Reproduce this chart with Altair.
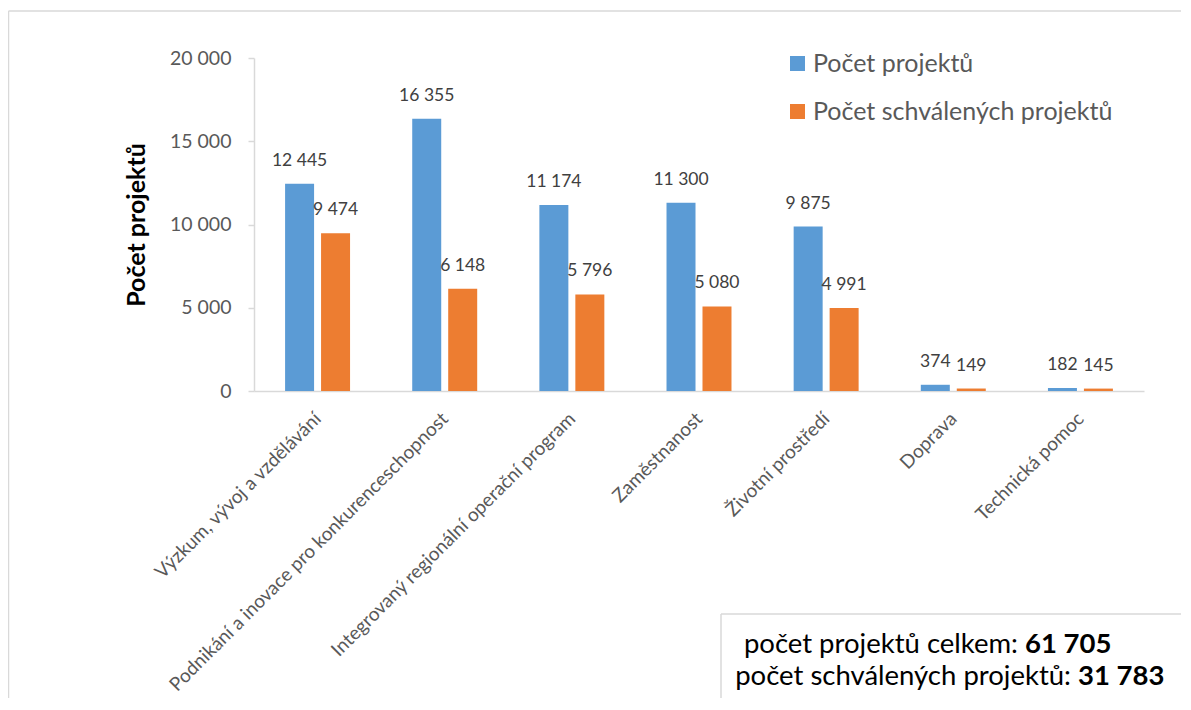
import altair as alt
import pandas as pd

categories = [
    "Výzkum, vývoj a vzdělávání",
    "Podnikání a inovace pro konkurenceschopnost",
    "Integrovaný regionální operační program",
    "Zaměstnanost",
    "Životní prostředí",
    "Doprava",
    "Technická pomoc",
]
series = ["Počet projektů", "Počet schválených projektů"]
projects = [12445, 16355, 11174, 11300, 9875, 374, 182]
approved = [9474, 6148, 5796, 5080, 4991, 149, 145]
y_ticks = [0, 5000, 10000, 15000, 20000]
summary_labels = ["počet projektů celkem:", "počet schválených projektů:"]
summary_values = ["61 705", "31 783"]
colors = ["#5B9BD5", "#ED7D31"]

FONT = "Lato"
W, H = 890, 333
PAD = {"left": 246, "top": 50, "right": 39, "bottom": 309}
RIGHT = W + PAD["right"] - 2     # just inside the svg right edge
BOTTOM = H + PAD["bottom"] - 2   # just inside the svg bottom edge
EDGE = "#d9d9d9"

rows = []
for i, c in enumerate(categories):
    for s, vals in zip(series, [projects, approved]):
        v = vals[i]
        rows.append({"category": c, "series": s, "value": v,
                     "label": f"{v:,}".replace(",", " ")})
df = pd.DataFrame(rows)

x_enc = alt.X(
    "category:N", sort=categories, title=None,
    scale=alt.Scale(paddingInner=0.489, paddingOuter=0.2445),
    axis=alt.Axis(labelAngle=-45, labelAlign="right", labelBaseline="top",
                  labelFontSize=19, labelColor="#595959", labelFont=FONT,
                  ticks=False, domainColor=EDGE, domainWidth=1.5,
                  labelPadding=18, labelOffset=-6, labelLimit=0),
)
xoff_enc = alt.XOffset("series:N", sort=series,
                       scale=alt.Scale(domain=series, paddingInner=0.194, paddingOuter=0))
y_enc = alt.Y(
    "value:Q", scale=alt.Scale(domain=[0, 20000]),
    axis=alt.Axis(values=y_ticks, grid=False, domainColor=EDGE, domainWidth=1.5,
                  tickColor=EDGE, tickSize=6, tickWidth=1.5,
                  labelFontSize=19.5, labelColor="#595959", labelFont=FONT, labelPadding=17,
                  labelExpr="replace(format(datum.value, ','), ',', ' ')",
                  title="Počet projektů", titleFontSize=25, titleFont=FONT,
                  titleFontWeight="bold", titleColor="#000000", titlePadding=20),
)

base = alt.Chart(df)
bars = base.mark_bar().encode(
    x=x_enc, xOffset=xoff_enc, y=y_enc,
    color=alt.Color("series:N", sort=series,
                    scale=alt.Scale(domain=series, range=colors),
                    legend=alt.Legend(orient="none", legendX=531, legendY=-7, title=None,
                                      symbolType="square", symbolSize=225,
                                      symbolStrokeWidth=0, labelFontSize=25,
                                      labelColor="#595959", labelFont=FONT,
                                      rowPadding=22, labelOffset=3, labelLimit=0)),
)
labels = base.mark_text(dy=-18, baseline="alphabetic", fontSize=17.5,
                        color="#404040", font=FONT).encode(
    x=alt.X("category:N", sort=categories),
    xOffset=alt.XOffset("series:N", sort=series),
    y="value:Q", text="label:N",
)

one = pd.DataFrame({"k": [0]})
FX, FY = -245.5, -47
frame_top = alt.Chart(one).mark_rule(color=EDGE, strokeWidth=1.5).encode(
    x=alt.value(FX), x2=alt.value(RIGHT), y=alt.value(FY))
frame_left = alt.Chart(one).mark_rule(color=EDGE, strokeWidth=1.5).encode(
    x=alt.value(FX), y=alt.value(FY), y2=alt.value(BOTTOM))

BX, BY = 467, 556
box = alt.Chart(one).mark_rect(fill="white").encode(
    x=alt.value(BX), x2=alt.value(RIGHT), y=alt.value(BY), y2=alt.value(BOTTOM))
box_top = alt.Chart(one).mark_rule(color=EDGE, strokeWidth=1.5).encode(
    x=alt.value(BX), x2=alt.value(RIGHT), y=alt.value(BY))
box_left = alt.Chart(one).mark_rule(color=EDGE, strokeWidth=1.5).encode(
    x=alt.value(BX), y=alt.value(BY), y2=alt.value(BOTTOM))

sum_layers = []
value_x = [771, 824]
base_y = [595, 627]
for i in range(2):
    d = pd.DataFrame({"t": [summary_labels[i]], "v": [summary_values[i]]})
    sum_layers.append(alt.Chart(d).mark_text(align="right", baseline="alphabetic", fontSize=27.5,
                                             font=FONT, color="#000000").encode(
        x=alt.value(value_x[i] - 7), y=alt.value(base_y[i]), text="t:N"))
    sum_layers.append(alt.Chart(d).mark_text(align="left", baseline="alphabetic", fontSize=27.5,
                                             font=FONT, fontWeight="bold", color="#000000").encode(
        x=alt.value(value_x[i]), y=alt.value(base_y[i]), text="v:N"))

chart = alt.layer(frame_top, frame_left, bars, labels, box, box_top, box_left,
                  *sum_layers).properties(
    width=W, height=H,
    padding=PAD,
    autosize=alt.AutoSizeParams(type="none"),
    background="white",
).configure_view(stroke=None)

chart.save("out.html", embed_options={"renderer": "svg", "actions": False})
